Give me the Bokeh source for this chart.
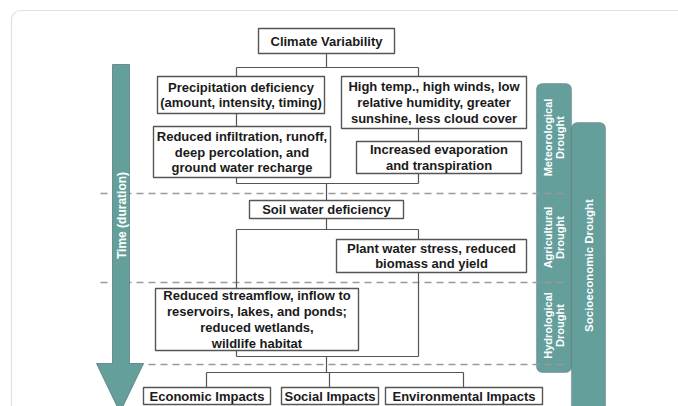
import math
from bokeh.plotting import figure
from bokeh.models import Range1d, BoxAnnotation
from bokeh.core.properties import value
from bokeh.embed import file_html
from bokeh.resources import INLINE

# ---- content ----
box_labels = [
    "Climate Variability",
    "Precipitation deficiency\n(amount, intensity, timing)",
    "High temp., high winds, low\nrelative humidity, greater\nsunshine, less cloud cover",
    "Reduced infiltration, runoff,\ndeep percolation, and\nground water recharge",
    "Increased evaporation\nand transpiration",
    "Soil water deficiency",
    "Plant water stress, reduced\nbiomass and yield",
    "Reduced streamflow, inflow to\nreservoirs, lakes, and ponds;\nreduced wetlands,\nwildlife habitat",
    "Economic Impacts",
    "Social Impacts",
    "Environmental Impacts",
]
band_labels = ["Meteorological\nDrought", "Agricultural\nDrought", "Hydrological\nDrought"]
socio_label = "Socioeconomic Drought"
time_label = "Time (duration)"

# ---- layout (screen pixels) ----
box_left = [258, 157, 341, 153, 356, 249, 336, 155, 143, 281, 385]
box_right = [394, 324, 526, 330, 521, 403, 526, 358, 270, 378, 542]
box_top = [28, 76, 76, 126, 141, 200, 239, 288, 387, 387, 387]
box_bottom = [53, 113, 128, 177, 173, 218, 272, 350, 404, 404, 404]

connectors = [
    ([326, 326], [53, 67]), ([236, 418], [67, 67]),
    ([236, 236], [67, 76]), ([418, 418], [67, 76]),
    ([236, 236], [113, 126]), ([418, 418], [128, 141]),
    ([236, 236], [177, 183]), ([418, 418], [173, 183]),
    ([236, 418], [183, 183]), ([326, 326], [183, 200]),
    ([326, 326], [218, 229]), ([236, 418], [229, 229]),
    ([418, 418], [229, 239]), ([418, 418], [272, 356]),
    ([236, 236], [229, 288]), ([236, 236], [350, 356]),
    ([236, 418], [356, 356]), ([326, 326], [356, 372]),
    ([206, 463], [372, 372]), ([206, 206], [372, 387]),
    ([329, 329], [372, 387]), ([463, 463], [372, 387]),
]
dash_y = [193, 282, 364]
band_y = [137, 237, 325]

W, H = 678, 406
TEAL = "#649f9c"
EDGE = "#4d4d4d"
FONT = value("Liberation Sans")


def Y(sy):
    return 406 - sy


p = figure(width=W, height=H, output_backend="svg", toolbar_location=None,
           x_range=Range1d(0, W), y_range=Range1d(0, H),
           min_border=0, outline_line_color=None, background_fill_color="white",
           border_fill_color="white")
p.axis.visible = False
p.grid.visible = False

# outer frame
p.add_layout(BoxAnnotation(left=11, right=720, bottom=Y(440), top=Y(10),
                           fill_alpha=0, line_color="#9a9a9a", line_width=1.2,
                           border_radius=9, level="underlay"))

# right bands
p.add_layout(BoxAnnotation(left=536, right=571, top=Y(83), bottom=Y(372),
                           fill_color=TEAL, fill_alpha=1, line_color=EDGE,
                           line_width=1.2, border_radius=6, level="underlay"))
p.add_layout(BoxAnnotation(left=571, right=605, top=Y(122), bottom=Y(440),
                           fill_color=TEAL, fill_alpha=1, line_color=EDGE,
                           line_width=1.2, border_radius=6, level="underlay"))
p.text(x=[553.5] * 3, y=[Y(v) for v in band_y], text=band_labels, angle=math.pi / 2,
       text_align="center", text_baseline="middle", text_color="white",
       text_font=FONT, text_font_style="bold",
       text_font_size="11px", text_line_height=1.0)
p.text(x=[588], y=[Y(265)], text=[socio_label], angle=math.pi / 2,
       text_align="center", text_baseline="middle", text_color="white",
       text_font=FONT, text_font_style="bold", text_font_size="11.5px")

# dashed separators (under the time arrow, over the bands)
for dy in dash_y:
    p.line([100, 568], [Y(dy), Y(dy)], line_color="#9a9a9a", line_width=1.3,
           line_dash="7 5")

# time arrow
p.quad(left=[112], right=[129], top=[Y(64)], bottom=[Y(364)],
       fill_color=TEAL, line_color="#5a7c7a", line_width=0.8)
p.patch(x=[96, 143, 119.5], y=[Y(363), Y(363), Y(412)],
        fill_color=TEAL, line_color="#5a7c7a", line_width=0.8)
p.quad(left=[112.5], right=[128.5], top=[Y(362)], bottom=[Y(366)],
       fill_color=TEAL, line_color=None)
p.text(x=[121], y=[Y(215)], text=[time_label], angle=math.pi / 2,
       text_align="center", text_baseline="middle", text_color="white",
       text_font=FONT, text_font_style="bold", text_font_size="12px")

# connectors
for xs, ys in connectors:
    p.line(xs, [Y(v) for v in ys], line_color="#555555", line_width=1.2)

# boxes
p.quad(left=box_left, right=box_right, top=[Y(v) for v in box_top],
       bottom=[Y(v) for v in box_bottom], fill_color="white",
       line_color="#555555", line_width=1.4)
cx = [(a + b) / 2 for a, b in zip(box_left, box_right)]
cy = [Y((a + b) / 2) for a, b in zip(box_top, box_bottom)]
p.text(x=cx, y=cy, text=box_labels, text_align="center", text_baseline="middle",
       text_color="#1a1a1a", text_font=FONT,
       text_font_style="bold", text_font_size="13px", text_line_height=1.05)

open("out.html", "w").write(file_html(p, INLINE))
